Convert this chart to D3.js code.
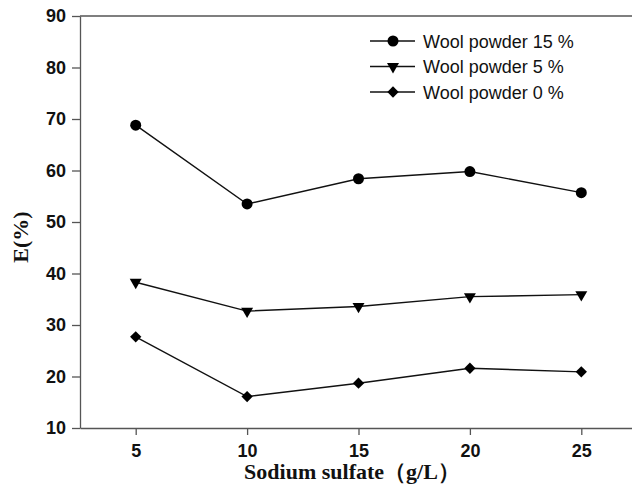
<!doctype html>
<html>
<head>
<script src="https://cdnjs.cloudflare.com/ajax/libs/d3/7.8.5/d3.min.js"></script>
<style>
body { margin: 0; background: #fff; }
.tick text { font-family: "Liberation Sans", Arial, sans-serif; font-weight: bold; font-size: 18px; fill: #111; }
.axis path, .axis line { stroke: #555; stroke-width: 1.3px; }
.title { font-family: "Liberation Serif", "Times New Roman", serif; font-weight: bold; font-size: 22px; fill: #111; }
.legend text { font-family: "Liberation Sans", Arial, sans-serif; font-size: 18px; fill: #111; }
</style>
</head>
<body>
<svg width="632" height="486"></svg>
<script>
var sulfate = [5, 10, 15, 20, 25]
var wool15 = [68.8, 53.5, 58.4, 59.8, 55.7]
var wool5 = [38.3, 32.7, 33.6, 35.5, 35.9]
var wool0 = [27.7, 16.1, 18.7, 21.6, 20.9]
var seriesNames = ["Wool powder 15 %", "Wool powder 5 %", "Wool powder 0 %"]
var yTicks = [10, 20, 30, 40, 50, 60, 70, 80, 90]

var series = [
  {name: seriesNames[0], values: wool15, shape: d3.symbolCircle, size: 95, rot: 0},
  {name: seriesNames[1], values: wool5, shape: d3.symbolTriangle, size: 62, rot: 180},
  {name: seriesNames[2], values: wool0, shape: d3.symbolSquare, size: 64, rot: 45}
]

var svg = d3.select("svg")
var padLeft = 80, padTop = 16, axisY = 428

var x = d3.scaleLinear().domain([2.5, 27.5]).range([padLeft, 637])
var y = d3.scaleLinear().domain([10, 90]).range([axisY, padTop])

// top frame line
svg.append("line")
  .attr("x1", padLeft).attr("x2", 632)
  .attr("y1", padTop).attr("y2", padTop)
  .attr("stroke", "#555").attr("stroke-width", 1.3)

svg.append("g").attr("class", "axis")
  .attr("transform", "translate(0," + axisY + ")")
  .call(d3.axisBottom(x).tickValues(sulfate).tickSize(7).tickPadding(9).tickSizeOuter(0))

svg.append("g").attr("class", "axis")
  .attr("transform", "translate(" + padLeft + ",0)")
  .call(d3.axisLeft(y).tickValues(yTicks).tickSize(8).tickPadding(6).tickSizeOuter(0))

var line = d3.line().x((d, i) => x(sulfate[i])).y(d => y(d))

series.forEach(s => {
  svg.append("path")
    .attr("d", line(s.values))
    .attr("fill", "none").attr("stroke", "#111").attr("stroke-width", 1.4)
  svg.append("g").selectAll("path")
    .data(s.values)
    .enter()
    .append("path")
    .attr("d", d3.symbol().type(s.shape).size(s.size))
    .attr("transform", (d, i) => "translate(" + x(sulfate[i]) + "," + y(d) + ") rotate(" + s.rot + ")")
    .attr("fill", "#000")
})

// legend
var leg = svg.append("g").attr("class", "legend")
  .selectAll("g")
  .data(series)
  .enter()
  .append("g")
  .attr("transform", (d, i) => "translate(370," + (41 + i * 25.5) + ")")

leg.append("line").attr("x1", 0).attr("x2", 45).attr("stroke", "#111").attr("stroke-width", 1.4)
leg.append("path")
  .attr("d", d => d3.symbol().type(d.shape).size(d.size)())
  .attr("transform", d => "translate(23,0) rotate(" + d.rot + ")")
leg.append("text").attr("x", 53).attr("y", 6.5).text(d => d.name)

svg.append("text").attr("class", "title")
  .attr("x", 352).attr("y", 479)
  .attr("text-anchor", "middle")
  .text("Sodium sulfate（g/L）")

svg.append("text").attr("class", "title")
  .attr("transform", "translate(28,237) rotate(-90)")
  .attr("text-anchor", "middle")
  .text("E(%)")
</script>
</body>
</html>
